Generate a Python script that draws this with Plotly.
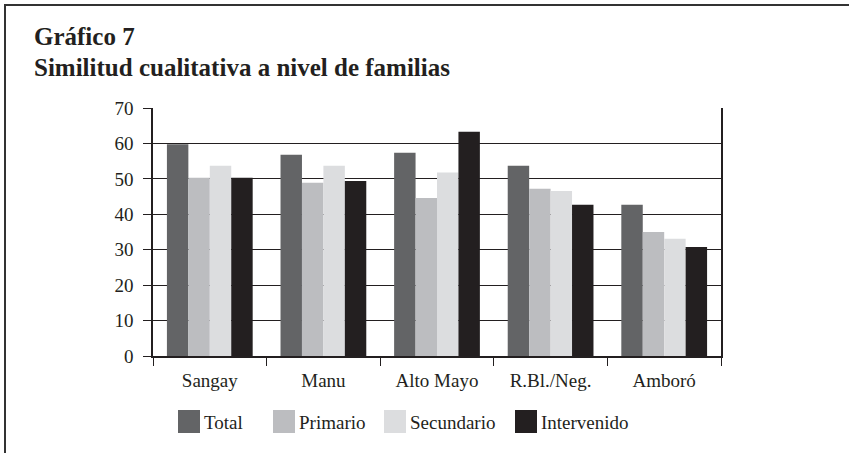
import plotly.graph_objects as go

# data
reservas = ["Sangay", "Manu", "Alto Mayo", "R.Bl./Neg.", "Amboró"]
total = [59.8, 56.8, 57.4, 53.7, 42.7]
primario = [50.3, 48.9, 44.6, 47.2, 35.0]
secundario = [53.7, 53.7, 51.8, 46.6, 33.1]
intervenido = [50.3, 49.4, 63.3, 42.7, 30.8]

series = ["Total", "Primario", "Secundario", "Intervenido"]
values = [total, primario, secundario, intervenido]
colors = ["#636466", "#bcbdc0", "#dcdddf", "#231f20"]

W, H = 849, 453
# plot area in pixels
x0, x1 = 153, 721
y_top, y_bot = 108, 356
pw, ph = x1 - x0, y_bot - y_top


def px(x):
    return (x - x0) / pw


def py(y):
    return (y_bot - y) / ph


font = "Liberation Serif"
ink = "#231f20"

fig = go.Figure()
for name, vals, c in zip(series, values, colors):
    fig.add_trace(go.Bar(x=reservas, y=vals, name=name, marker=dict(color=c, line=dict(width=0)),
                         showlegend=False))

shapes = []
annotations = []

# outer frame (top and left only)
shapes.append(dict(type="line", xref="paper", yref="paper", x0=px(4), x1=px(W + 5), y0=py(5), y1=py(5),
                   line=dict(color="#333333", width=2)))
shapes.append(dict(type="line", xref="paper", yref="paper", x0=px(5), x1=px(5), y0=py(4), y1=py(H + 5),
                   line=dict(color="#333333", width=2)))

# title
annotations.append(dict(text="<b>Gráfico 7</b>", xref="paper", yref="paper", x=px(32), y=py(36),
                        xanchor="left", yanchor="middle", showarrow=False,
                        font=dict(family=font, size=25, color=ink)))
annotations.append(dict(text="<b>Similitud cualitativa a nivel de familias</b>", xref="paper", yref="paper",
                        x=px(32), y=py(67), xanchor="left", yanchor="middle", showarrow=False,
                        font=dict(family=font, size=25, color=ink)))

# legend drawn by hand (big swatches)
leg_x = [178, 273, 384, 515]
for name, c, lx in zip(series, colors, leg_x):
    shapes.append(dict(type="rect", xref="paper", yref="paper", x0=px(lx), x1=px(lx + 22),
                       y0=py(410), y1=py(433), fillcolor=c, line=dict(width=0)))
    annotations.append(dict(text=name, xref="paper", yref="paper", x=px(lx + 24), y=py(423),
                            xanchor="left", yanchor="middle", showarrow=False,
                            font=dict(family=font, size=19, color=ink)))

fig.update_layout(
    width=W, height=H,
    margin=dict(l=x0, r=W - x1, t=y_top, b=H - y_bot),
    paper_bgcolor="white", plot_bgcolor="white",
    barmode="group", bargap=0.245, bargroupgap=0,
    font=dict(family=font, size=19, color=ink),
    shapes=shapes, annotations=annotations,
    xaxis=dict(showline=True, linecolor=ink, linewidth=1.5, ticks="outside", ticklen=8,
               tickcolor=ink, tickson="boundaries", showgrid=False, ticklabelstandoff=6,
               tickfont=dict(family=font, size=19, color=ink)),
    yaxis=dict(range=[0, 70], dtick=10, showgrid=True, gridcolor=ink, gridwidth=1,
               showline=True, linecolor=ink, linewidth=1.5, mirror=True,
               ticks="outside", ticklen=8, tickcolor=ink, zeroline=False,
               ticklabelstandoff=6, tickfont=dict(family=font, size=19, color=ink)),
)

# the page body has a default 8px margin; drop it so the figure sits at the window corner
fig.write_html("out.html", config={"displayModeBar": False},
               post_script="document.body.style.margin='0';")
